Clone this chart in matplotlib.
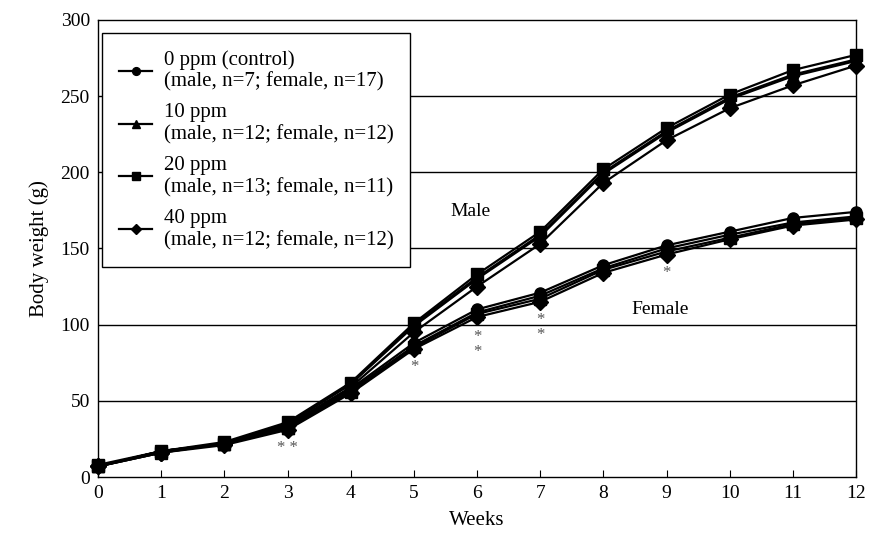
import numpy as np
import matplotlib
matplotlib.use('Agg')
import matplotlib.pyplot as plt

plt.rcParams['font.family'] = ['Liberation Serif', 'DejaVu Serif']

weeks = np.arange(13)
doses = ['0 ppm (control)', '10 ppm', '20 ppm', '40 ppm']
counts = ['(male, n=7; female, n=17)', '(male, n=12; female, n=12)',
          '(male, n=13; female, n=11)', '(male, n=12; female, n=12)']
markers = ['o', '^', 's', 'D']

male = [
    [7, 17, 22, 35, 61, 100, 131, 159, 200, 227, 249, 264, 274],
    [7, 17, 22, 35, 61, 99, 130, 158, 199, 226, 248, 263, 273],
    [8, 17, 23, 36, 62, 101, 133, 161, 202, 229, 251, 267, 277],
    [7, 16, 22, 34, 59, 95, 125, 153, 193, 221, 242, 257, 270],
]
female = [
    [7, 17, 22, 33, 58, 88, 110, 121, 139, 152, 161, 170, 174],
    [7, 17, 22, 32, 57, 86, 108, 119, 137, 150, 159, 167, 171],
    [7, 16, 22, 32, 56, 85, 107, 117, 136, 148, 157, 166, 170],
    [7, 16, 21, 31, 55, 84, 105, 115, 134, 146, 156, 165, 169],
]

# significance marks (week, y, text)
stars = [(3, 19, '* *'), (5, 72, '*'), (6, 92, '*'), (6, 82, '*'),
         (7, 103, '*'), (7, 93, '*'), (9, 134, '*')]

fig = plt.figure(figsize=(8.69, 5.36), dpi=100)
ax = fig.add_axes([0.113, 0.11, 0.872, 0.853])

for y in range(50, 300, 50):
    ax.axhline(y, color='black', lw=1.0, zorder=1)

for i in range(4):
    ax.plot(weeks, male[i], color='black', lw=1.6, marker=markers[i], ms=8,
            clip_on=False, zorder=3, label=doses[i] + '\n' + counts[i])
    ax.plot(weeks, female[i], color='black', lw=1.6, marker=markers[i], ms=8,
            clip_on=False, zorder=3)

for wk, yv, s in stars:
    ax.text(wk, yv, s, ha='center', va='center', fontsize=12, color='#555555')

ax.text(5.9, 174, 'Male', ha='center', va='center', fontsize=14)
ax.text(8.9, 110, 'Female', ha='center', va='center', fontsize=14)

ax.set_xlim(0, 12)
ax.set_ylim(0, 300)
ax.set_xticks(weeks)
ax.set_yticks(range(0, 301, 50))
ax.tick_params(axis='x', direction='in', length=5, labelsize=14, pad=6)
ax.tick_params(axis='y', length=0, labelsize=14, pad=6)
for sp in ax.spines.values():
    sp.set_linewidth(1.0)

ax.set_xlabel('Weeks', fontsize=15, labelpad=6)
ax.set_ylabel('Body weight (g)', fontsize=15, labelpad=8)

leg = ax.legend(loc='upper left', bbox_to_anchor=(0.0, 0.98), fontsize=15,
                frameon=True, fancybox=False, edgecolor='black', framealpha=1,
                handlelength=1.6, handletextpad=0.55, labelspacing=0.55,
                borderpad=0.8, borderaxespad=0.2, markerscale=0.7)
leg.get_frame().set_linewidth(1.0)
leg.set_zorder(5)

fig.savefig('out.png', dpi=100)
